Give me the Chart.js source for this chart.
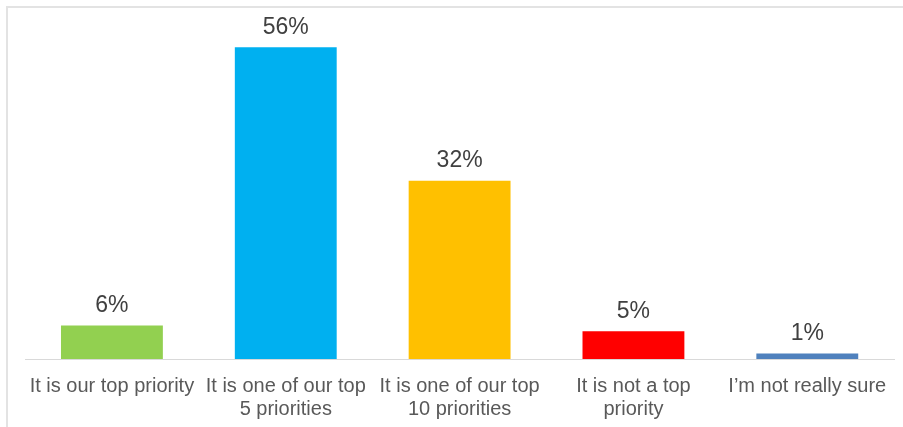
<!DOCTYPE html>
<html>
<head>
<meta charset="utf-8">
<script src="https://cdn.jsdelivr.net/npm/chart.js@4/dist/chart.umd.min.js"></script>
<style>
  html, body { margin: 0; padding: 0; background: #fff; }
  #wrap { position: relative; width: 903px; height: 427px; }
  #frame {
    position: absolute; left: 6px; top: 6px; right: 0; bottom: 0;
    border-left: 2px solid #e3e3e3; border-top: 2px solid #e3e3e3;
  }
  #chart { position: absolute; left: 0; top: 0; }
</style>
</head>
<body>
<div id="wrap">
  <div id="frame"></div>
  <canvas id="chart" width="903" height="427"></canvas>
</div>
<script>
const categories = [
  'It is our top priority',
  ['It is one of our top', '5 priorities'],
  ['It is one of our top', '10 priorities'],
  ['It is not a top', 'priority'],
  'I\u2019m not really sure'
];
const shares = [6, 56, 32, 5, 1];
const barColors = ['#92D050', '#00B0F0', '#FFC000', '#FF0000', '#4F81BD'];

const fontFamily = '"Liberation Sans", Arial, sans-serif';

// writes the percentage above each bar
const valueLabels = {
  id: 'valueLabels',
  afterDatasetsDraw(chart) {
    const ctx = chart.ctx;
    const meta = chart.getDatasetMeta(0);
    ctx.save();
    ctx.font = '23px ' + fontFamily;
    ctx.fillStyle = '#404040';
    ctx.textAlign = 'center';
    ctx.textBaseline = 'middle';
    meta.data.forEach((bar, i) => {
      ctx.fillText(shares[i] + '%', bar.x, bar.y - 20);
    });
    ctx.restore();
  }
};

new Chart(document.getElementById('chart'), {
  type: 'bar',
  data: {
    labels: categories,
    datasets: [{
      data: shares,
      backgroundColor: barColors,
      borderWidth: 0,
      barPercentage: 1,
      categoryPercentage: 0.586
    }]
  },
  options: {
    responsive: false,
    animation: false,
    layout: { padding: { left: 25, right: 8, top: 25, bottom: 0 } },
    plugins: { legend: { display: false }, tooltip: { enabled: false } },
    scales: {
      x: {
        grid: { display: false, drawTicks: false },
        border: { display: true, color: '#d9d9d9', width: 1 },
        ticks: {
          color: '#595959',
          padding: 16,
          maxRotation: 0,
          autoSkip: false,
          font: { family: fontFamily, size: 20, lineHeight: 1.15 }
        },
        afterFit(scale) { scale.height = 68; }
      },
      y: {
        display: false,
        min: 0,
        max: 60
      }
    }
  },
  plugins: [valueLabels]
});
</script>
</body>
</html>
